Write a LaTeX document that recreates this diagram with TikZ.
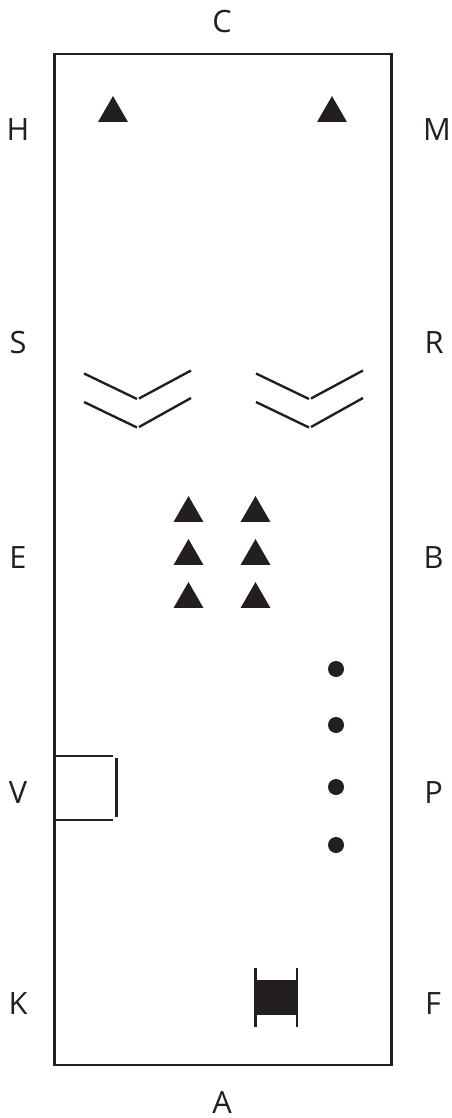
\documentclass[tikz,border=0pt]{standalone}
\usepackage{fontspec}
\setmainfont{Open Sans}
\usetikzlibrary{shapes.geometric, positioning}
\definecolor{ink}{HTML}{231F20}
\tikzset{
    marker/.style={regular polygon, regular polygon sides=3, fill=ink, inner sep=0pt, minimum size=0.69cm},
    dot/.style={circle, fill=ink, inner sep=0pt, minimum size=0.32cm},
    letter/.style={text=ink, inner sep=0pt, font=\fontsize{17.5}{19}\selectfont},
    rule/.style={draw=ink, line width=1.35pt},
    pics/chevron/.style={code={
        \draw[rule] (0,0) -- (53,25.5);
        \draw[rule] (55,25) -- (107,-3);
        \draw[rule] (0,28.5) -- (53,54);
        \draw[rule] (55,53.5) -- (107,24.5);
    }}
}

\begin{document}
\begin{tikzpicture}[x=0.02cm, y=-0.02cm]
            \useasboundingbox (0,0) rectangle (452,1118);
            % arena
            \node[rule, rectangle, inner sep=0pt, minimum width=6.74cm, minimum height=20.22cm] (arena) at (223,559.5) {};
            % letters
            \node[letter] (c) at (222,21.5) {C};
            \node[letter] (a) at (222,1102) {A};
            \foreach \name/\lbl/\ypos in {h/H/130, s/S/343, e/E/558, v/V/793, k/K/1004} {
                \node[letter] (\name) at (18,\ypos) {\lbl};
            }
            \foreach \name/\lbl/\xpos/\ypos in {m/M/437/130, r/R/434/343, b/B/433.5/558, p/P/433.5/793, f/F/433/1004} {
                \node[letter] (\name) at (\xpos,\ypos) {\lbl};
            }
            % triangles
            \node[marker] (top1) at (113,113.3) {};
            \node[marker] (top2) at (332,113.3) {};
            \foreach \row/\ypos in {1/513.3, 2/556.3, 3/599.3} {
                \node[marker] (mid\row a) at (188.5,\ypos) {};
                \node[marker] (mid\row b) at (255.5,\ypos) {};
            }
            % chevrons
            \pic at (84,373.5) {chevron};
            \pic at (256,373.5) {chevron};
            % dots
            \foreach \ypos in {669, 725, 787, 845} {
                \node[dot] at (336,\ypos) {};
            }
            % gate
            \coordinate (gateA) at (55,756);
            \coordinate (gateB) at (113,756);
            \coordinate (gateC) at (55,820);
            \coordinate (gateD) at (113,820);
            \coordinate (gateE) at (116.5,758);
            \coordinate (gateF) at (116.5,817);
            \draw[rule] (gateA) -- (gateB);
            \draw[rule] (gateC) -- (gateD);
            \draw[rule] (gateE) -- (gateF);
            % spool
            \node[rectangle, fill=ink, inner sep=0pt, minimum width=0.84cm, minimum height=0.7cm] (spool) at (276,997.5) {};
            \coordinate (spoolA) at (255.5,968);
            \coordinate (spoolB) at (255.5,1027);
            \coordinate (spoolC) at (296.7,968);
            \coordinate (spoolD) at (296.7,1027);
            \draw[rule] (spoolA) -- (spoolB);
            \draw[rule] (spoolC) -- (spoolD);
        \end{tikzpicture}
\end{document}
